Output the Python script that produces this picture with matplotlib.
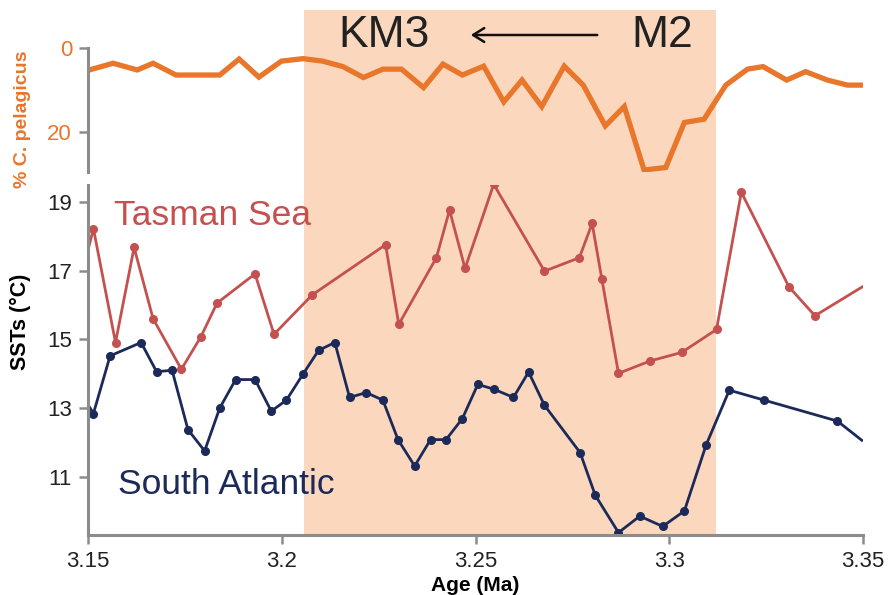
import matplotlib.pyplot as plt
from matplotlib.patches import FancyArrowPatch

plt.rcParams['font.family'] = ['Liberation Sans', 'DejaVu Sans']

# % C. pelagicus record
cp_age = [3.1503, 3.1565, 3.1627, 3.1668, 3.1727, 3.1840, 3.1890, 3.1941, 3.1999,
          3.2055, 3.2106, 3.2158, 3.2211, 3.2261, 3.2309, 3.2366, 3.2416, 3.2466,
          3.2521, 3.2573, 3.2620, 3.2671, 3.2729, 3.2778, 3.2835, 3.2884, 3.2935,
          3.2991, 3.3039, 3.3090, 3.3146, 3.3202, 3.3242, 3.3303, 3.3352, 3.3408,
          3.3460, 3.3497]
cp_pct = [5.3, 3.7, 5.3, 3.7, 6.5, 6.5, 2.7, 7.0, 3.2,
          2.6, 3.2, 4.5, 7.1, 5.1, 5.1, 9.5, 3.9, 6.5,
          4.4, 12.9, 7.7, 14.0, 4.4, 8.9, 18.6, 14.0, 29.1,
          28.5, 17.8, 17.0, 8.9, 5.1, 4.5, 7.7, 5.7, 7.7,
          8.9, 8.9]

# Tasman Sea SSTs
ts_age = [3.1501, 3.1514, 3.1571, 3.1619, 3.1668, 3.1741, 3.1791, 3.1833, 3.1931,
          3.1980, 3.2079, 3.2268, 3.2302, 3.2399, 3.2433, 3.2473, 3.2547, 3.2678,
          3.2768, 3.2801, 3.2826, 3.2869, 3.2950, 3.3032, 3.3122, 3.3186, 3.3309,
          3.3376, 3.3498]
ts_sst = [17.65, 18.23, 14.91, 17.68, 15.60, 14.13, 15.07, 16.06, 16.91,
          15.15, 16.30, 17.76, 15.44, 17.38, 18.77, 17.07, 19.52, 16.99,
          17.38, 18.38, 16.76, 14.01, 14.37, 14.62, 15.29, 19.29, 16.53,
          15.69, 16.53]

# South Atlantic SSTs
sa_age = [3.1501, 3.1514, 3.1557, 3.1637, 3.1677, 3.1717, 3.1758, 3.1801, 3.1840,
          3.1881, 3.1931, 3.1973, 3.2012, 3.2055, 3.2095, 3.2137, 3.2175, 3.2218,
          3.2261, 3.2300, 3.2343, 3.2384, 3.2424, 3.2466, 3.2506, 3.2547, 3.2598,
          3.2637, 3.2678, 3.2770, 3.2809, 3.2869, 3.2924, 3.2983, 3.3039, 3.3095,
          3.3155, 3.3245, 3.3434, 3.3497]
sa_sst = [13.08, 12.84, 14.52, 14.91, 14.06, 14.10, 12.37, 11.75, 13.00,
          13.83, 13.83, 12.91, 13.23, 13.99, 14.68, 14.91, 13.31, 13.45,
          13.23, 12.08, 11.31, 12.08, 12.08, 12.69, 13.69, 13.55, 13.31,
          14.05, 13.08, 11.70, 10.46, 9.37, 9.85, 9.55, 10.00, 11.92,
          13.52, 13.23, 12.62, 12.06]

km3_m2 = (3.2057, 3.312)
x_ticks = [3.15, 3.2, 3.25, 3.3, 3.35]
x_labels = ['3.15', '3.2', '3.25', '3.3', '3.35']

orange = '#e8762b'
red = '#c4514f'
navy = '#1c2a5a'
peach = '#fbd8bd'
grey = '#8c8c8c'

fig = plt.figure(figsize=(8.88, 5.95), dpi=100)
left, width = 88 / 888, 775 / 888

# shaded interval behind both panels
ax_bg = fig.add_axes([left, 60 / 595, width, 525 / 595])
ax_bg.set_xlim(3.15, 3.35)
ax_bg.axvspan(*km3_m2, color=peach, lw=0)
ax_bg.axis('off')

ax_top = fig.add_axes([left, 423.3 / 595, width, 124 / 595])
ax_bot = fig.add_axes([left, 60 / 595, width, 350 / 595])

for ax in (ax_top, ax_bot):
    ax.patch.set_alpha(0)
    ax.set_xlim(3.15, 3.35)
    for s in ('top', 'right'):
        ax.spines[s].set_visible(False)
    for s in ('left', 'bottom'):
        ax.spines[s].set_color(grey)
        ax.spines[s].set_linewidth(2.2)
    ax.tick_params(width=1.8, length=6.5, color=grey, labelsize=16, pad=5,
                   labelcolor='#222222')

# top panel
ax_top.plot(cp_age, cp_pct, color=orange, lw=3.8, solid_joinstyle='miter')
ax_top.set_ylim(29.5, 0)
ax_top.set_yticks([0, 20])
ax_top.tick_params(axis='y', labelcolor=orange)
ax_top.spines['bottom'].set_visible(False)
ax_top.set_xticks([])
ax_top.set_ylabel('% C. pelagicus', color=orange, fontsize=14, fontweight='bold')
ax_top.yaxis.set_label_coords(-0.073, 0.42)

# bottom panel
ax_bot.plot(ts_age, ts_sst, color=red, lw=2, marker='o', ms=5.5,
            markevery=slice(1, len(ts_age) - 1))
ax_bot.plot(sa_age, sa_sst, color=navy, lw=2, marker='o', ms=5.5,
            markevery=slice(1, len(sa_age) - 1))
ax_bot.set_ylim(9.3, 19.5)
ax_bot.set_yticks([11, 13, 15, 17, 19])
ax_bot.set_xticks(x_ticks)
ax_bot.set_xticklabels(x_labels)
ax_bot.set_ylabel('SSTs (°C)', fontsize=15.5, fontweight='bold')
ax_bot.yaxis.set_label_coords(-0.073, 0.61)
ax_bot.set_xlabel('Age (Ma)', fontsize=15, fontweight='bold', labelpad=3)

fig.text(114 / 888, 1 - 225 / 595, 'Tasman Sea', color=red, fontsize=25.5, va='baseline')
fig.text(118 / 888, 1 - 494 / 595, 'South Atlantic', color=navy, fontsize=25.5, va='baseline')
fig.text(338 / 888, 1 - 47 / 595, 'KM3', color='#222222', fontsize=32, va='baseline')
fig.text(631 / 888, 1 - 47 / 595, 'M2', color='#222222', fontsize=32, va='baseline')
arrow = FancyArrowPatch((600 / 888, 1 - 35 / 595), (468 / 888, 1 - 35 / 595),
                        transform=fig.transFigure, color='#111111', lw=1.8,
                        arrowstyle='->,head_length=8,head_width=5')
fig.patches.append(arrow)

fig.savefig('out.png', dpi=100)
